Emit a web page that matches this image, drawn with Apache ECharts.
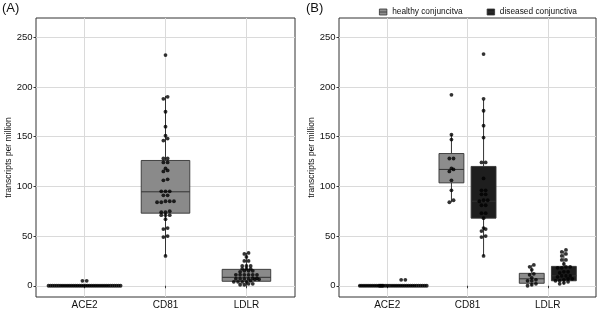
<!DOCTYPE html>
<html><head><meta charset="utf-8">
<script src="https://cdn.jsdelivr.net/npm/echarts@6/dist/echarts.min.js"></script>
<style>html,body{margin:0;padding:0;background:#fff}#c{width:600px;height:310px}</style>
</head><body><div id="c"></div>
<script>
const categories = ['ACE2', 'CD81', 'LDLR'];
const yTicks = [0, 50, 100, 150, 200, 250];
const groupNames = ['healthy conjuncitva', 'diseased conjunctiva'];
const yAxisTitle = 'transcripts per million';

// box statistics per gene: [lower whisker, Q1, median, Q3, upper whisker]
const boxAll      = [[0, 0, 0, 0, 0], [30, 73, 94.5, 126, 191], [0, 4.5, 8.5, 16.5, 33]];
const boxHealthy  = [[0, 0, 0, 0, 0], [84, 103.5, 117, 133, 152], [0, 2.5, 7, 12.5, 21]];
const boxDiseased = [[0, 0, 0, 0, 0], [30, 68, 85, 120, 187], [1, 5, 10, 19.5, 35]];

// individual samples, panel A (all samples)
const allACE2 = [0,0,0,0,0,0,0,0,0,0,0,0,0,0,0,0,0,0,0,0,0,0,0,0,0,0,0,0,0,0,0,0,0,0,0,0,5,5];
const allCD81 = [232,190,188,175,160,151,148,146,128,128,124,124,118,116,115,107,106,95,95,95,91,91,85,85,85,84,84,75,74,74,71,71,71,67,58,57,50,49,30];
const allLDLR = [33,32,29,25,25,20,20,20,17,17,17,15,15,15,14,11,11,11,11,11,11,7.5,7,7,7,6.5,7,7.5,6.5,5,4,4,4,4,2,2,1,1];

// panel B, healthy conjunctiva
const healthyACE2 = [0,0,0,0,0,0,0,0,0,0,0,0];
const healthyCD81 = [192,152,147,128,128,118,117,115,106,96,86,84];
const healthyLDLR = [21,19,16,12,11,8,6,5,5,2,1,0];

// panel B, diseased conjunctiva
const diseasedACE2 = [0,0,0,0,0,0,0,0,0,0,0,0,0,0,0,0,0,0,0,0,0,0,0,0,6,6];
const diseasedCD81 = [233,188,176,161,149,124,124,108,96,96,92,92,86,86,85,81,81,73,73,68,58,57,55,50,49,30];
const diseasedLDLR = [36,34,32,30,26,26,22,19,19,18,18,14,14,13,10,10,10,9,7,7,6,5,5,4,3,2];

const PX_X = 80.6;
// centred beeswarm: points whose values lie close together share a row
function swarmOffsets(values) {
  const rowSpan = 2.5, gap = 4.2, tightGap = 2.05;
  const order = values.map((v, i) => i).sort((a, b) => values[a] - values[b]);
  const rows = [];
  let cur = null;
  order.forEach(i => {
    if (!cur || values[i] - values[cur[0]] > rowSpan) { cur = [i]; rows.push(cur); }
    else cur.push(i);
  });
  const out = new Array(values.length);
  rows.forEach(r => {
    const n = r.length, s = n > 10 ? tightGap : gap;
    r.forEach((i, k) => { out[i] = ((k - (n - 1) / 2) * s) / PX_X; });
  });
  return out;
}

function dots(lists, shift) {
  const pts = [];
  lists.forEach((vals, ci) => {
    const off = swarmOffsets(vals);
    vals.forEach((v, k) => pts.push([ci + 1 + shift + off[k], v]));
  });
  return pts;
}
function boxes(stats, shift) {
  return stats.map((s, ci) => [ci + 1 + shift].concat(s));
}

function boxRenderer(width) {
  return function (params, api) {
    const x = api.value(0), mn = api.value(1), q1 = api.value(2), md = api.value(3), q3 = api.value(4), mx = api.value(5);
    const h = width / 2;
    const tl = api.coord([x - h, q3]), br = api.coord([x + h, q1]);
    const top = api.coord([x, mx]), c3 = api.coord([x, q3]), c1 = api.coord([x, q1]), bot = api.coord([x, mn]);
    const ml = api.coord([x - h, md]), mr = api.coord([x + h, md]);
    const style = api.style();
    const lineStyle = { stroke: '#333', lineWidth: 1 };
    return {
      type: 'group',
      children: [
        { type: 'line', shape: { x1: top[0], y1: top[1], x2: c3[0], y2: c3[1] }, style: lineStyle },
        { type: 'line', shape: { x1: c1[0], y1: c1[1], x2: bot[0], y2: bot[1] }, style: lineStyle },
        { type: 'rect', shape: { x: tl[0], y: tl[1], width: br[0] - tl[0], height: br[1] - tl[1] },
          style: { fill: style.fill, stroke: '#333', lineWidth: 0.9 } },
        { type: 'line', shape: { x1: ml[0], y1: ml[1], x2: mr[0], y2: mr[1] }, style: { stroke: '#333', lineWidth: 1 } }
      ]
    };
  };
}

const FONT = 'Liberation Sans, Arial, sans-serif';
const TXT = '#111';
const GRIDLINE = '#dadada';
function xAxis(gi) {
  return {
    type: 'value', gridIndex: gi, min: 0.4, max: 3.6,
    axisLine: { show: false },
    axisTick: { show: true, customValues: [1, 2, 3], length: 2.5, lineStyle: { color: '#333' } },
    axisLabel: { customValues: [1, 2, 3], formatter: v => categories[Math.round(v) - 1], margin: 3,
      fontSize: 10, color: TXT, fontFamily: FONT },
    splitLine: { show: true, lineStyle: { color: GRIDLINE, width: 1 } }
  };
}
function yAxis(gi) {
  return {
    type: 'value', gridIndex: gi, min: -11.3, max: 269.3,
    name: yAxisTitle, nameLocation: 'middle', nameGap: 18,
    nameTextStyle: { fontSize: 8.5, color: TXT, fontFamily: FONT },
    axisLine: { show: false },
    axisTick: { show: true, customValues: yTicks, length: 2.5, lineStyle: { color: '#333' } },
    axisLabel: { customValues: yTicks, margin: 3.5, fontSize: 9.5, color: TXT, fontFamily: FONT },
    splitLine: { show: true, lineStyle: { color: GRIDLINE, width: 1 } }
  };
}

const chart = echarts.init(document.getElementById('c'), null, { renderer: 'canvas' });
chart.setOption({
  animation: false,
  backgroundColor: '#fff',
  textStyle: { fontFamily: FONT },
  graphic: [
    { type: 'text', left: 2, top: 2, style: { text: '(A)', fontSize: 13, fill: '#111', fontFamily: FONT } },
    { type: 'text', left: 306, top: 2, style: { text: '(B)', fontSize: 13, fill: '#111', fontFamily: FONT } }
  ],
  legend: {
    data: groupNames.map(n => ({ name: n })),
    left: 374, top: 3, itemWidth: 8, itemHeight: 6, itemGap: 24,
    icon: 'path://M0,1H10V9H0Z M0,5H10',
    itemStyle: { borderColor: '#333', borderWidth: 0.8 },
    textStyle: { fontSize: 8.3, color: TXT, fontFamily: FONT },
    selectedMode: false
  },
  grid: [
    { left: 36, right: 305, top: 18, bottom: 12, show: true, borderColor: '#333', borderWidth: 1, backgroundColor: '#fff' },
    { left: 339, right: 4, top: 18, bottom: 12, show: true, borderColor: '#333', borderWidth: 1, backgroundColor: '#fff' }
  ],
  xAxis: [xAxis(0), xAxis(1)],
  yAxis: [yAxis(0), yAxis(1)],
  series: [
    { name: 'all samples', type: 'custom', xAxisIndex: 0, yAxisIndex: 0, renderItem: boxRenderer(0.6),
      itemStyle: { color: '#8a8a8a' }, encode: { x: 0, y: [1, 2, 3, 4, 5] }, data: boxes(boxAll, 0), z: 2 },
    { name: 'all dots', type: 'scatter', xAxisIndex: 0, yAxisIndex: 0, symbolSize: 3.8,
      itemStyle: { color: '#000' }, data: dots([allACE2, allCD81, allLDLR], 0), z: 3 },
    { name: groupNames[0], type: 'custom', xAxisIndex: 1, yAxisIndex: 1, renderItem: boxRenderer(0.31),
      itemStyle: { color: '#8d8d8d' }, encode: { x: 0, y: [1, 2, 3, 4, 5] }, data: boxes(boxHealthy, -0.2), z: 2 },
    { name: groupNames[1], type: 'custom', xAxisIndex: 1, yAxisIndex: 1, renderItem: boxRenderer(0.31),
      itemStyle: { color: '#1e1e1e' }, encode: { x: 0, y: [1, 2, 3, 4, 5] }, data: boxes(boxDiseased, 0.2), z: 2 },
    { name: 'healthy dots', type: 'scatter', xAxisIndex: 1, yAxisIndex: 1, symbolSize: 3.8,
      itemStyle: { color: '#000' }, data: dots([healthyACE2, healthyCD81, healthyLDLR], -0.2), z: 3 },
    { name: 'diseased dots', type: 'scatter', xAxisIndex: 1, yAxisIndex: 1, symbolSize: 3.8,
      itemStyle: { color: '#000' }, data: dots([diseasedACE2, diseasedCD81, diseasedLDLR], 0.2), z: 3 }
  ]
});
</script></body></html>
